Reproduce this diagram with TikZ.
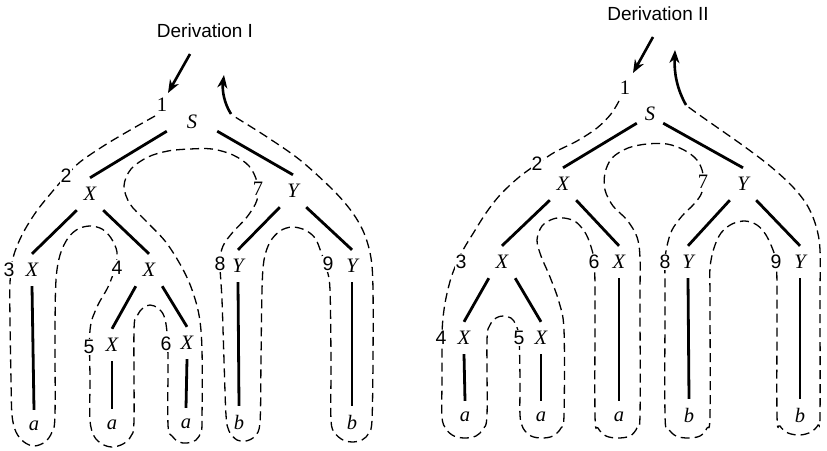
\documentclass[tikz,border=0pt]{standalone}
\usepackage{fontspec}
\setmainfont{Liberation Serif}
\setsansfont{Liberation Sans}
\usetikzlibrary{arrows.meta}
\tikzset{
  tn/.style={font=\fontsize{20.5}{22}\selectfont\itshape, inner sep=0pt, minimum width=26pt, minimum height=32pt},
  sn/.style={font=\fontsize{20.5}{22}\selectfont\itshape, inner sep=0pt, minimum height=18pt},
  num/.style={font=\sffamily\fontsize{19.5}{20}\selectfont, fill=white, inner sep=1pt},
  numr/.style={font=\rmfamily\fontsize{20.5}{20}\selectfont, fill=white, inner sep=1pt},
  ttl/.style={font=\sffamily\fontsize{19}{20}\selectfont, inner sep=0pt},
  tedge/.style={line width=2.8pt},
  contour/.style={dash pattern=on 9pt off 5pt, line width=1.3pt},
  arr/.style={line width=2.6pt, -{Stealth[length=13pt,width=10pt,inset=4pt]}}
}
\begin{document}
\begin{tikzpicture}[x=1pt,y=-1pt]
\useasboundingbox (0,0) rectangle (827,450);

% ---------- Derivation I ----------
\node[ttl] (t1) at (205,31) {Derivation I};
\node[sn, minimum width=50pt] (S1) at (192,122) {S};
\node[tn] (X1) at (90,194) {X};
\node[tn] (Y1) at (293,191) {Y};
\node[tn] (X3L) at (32,270) {X};
\node[tn] (X4L) at (149,270) {X};
\node[tn] (X5L) at (112,345) {X};
\node[tn] (X6L) at (187,343) {X};
\node[tn] (Y8L) at (238,266) {Y};
\node[tn] (Y9L) at (352,266) {Y};
\node[tn] (a3) at (34,426) {a};
\node[tn] (a5) at (112,425) {a};
\node[tn] (a6) at (186,424) {a};
\node[tn] (b8) at (239,422) {b};
\node[tn] (b9) at (352,422) {b};

\draw[tedge] (S1.south west) -- (X1.north);
\draw[tedge] (S1.south east) -- (Y1.north);
\draw[tedge] (X1.south west) -- (X3L.north);
\draw[tedge] (X1.south east) -- (X4L.north);
\draw[tedge] (X4L.south west) -- (X5L.north);
\draw[tedge] (X4L.south east) -- (X6L.north);
\draw[tedge] (Y1.south west) -- (Y8L.north);
\draw[tedge] (Y1.south east) -- (Y9L.north);
\draw[tedge] (X3L.south) -- (a3.north);
\draw[tedge] (X5L.south) -- (a5.north);
\draw[tedge] (X6L.south) -- (a6.north);
\draw[tedge] (Y8L.south) -- (b8.north);
\draw[tedge] (Y9L.south) -- (b9.north);

\draw[contour] plot[smooth, tension=0.55] coordinates {
(155,116) (132,129) (105,145) (80,162) (66,176) (52,192) (36,212) (22,235) (13,258) (10,283) (10,320) (11,380) (12,415) (16,432) (24,442) (34,446) (45,442) (52,432) (55,415) (55,330) (56,280) (60,255) (68,238) (78,229) (90,226) (102,229) (111,238) (117,252) (115,268) (108,287) (97,307) (90,330) (90,380) (90,420) (94,436) (102,444) (112,447) (123,444) (131,436) (134,420) (134,330) (137,316) (143,308) (150,305) (158,308) (164,316) (167,332) (168,360) (168,425) (172,436) (179,442) (187,443) (196,440) (201,432) (202,420) (202,350) (199,315) (191,287) (180,264) (165,241) (145,220) (130,204) (124,186) (131,169) (148,157) (168,151) (190,149) (212,149) (233,155) (249,166) (257,182) (257,200) (247,217) (233,232) (223,246) (220,263) (222,300) (224,360) (226,415) (229,431) (237,440) (246,441) (255,436) (260,422) (261,360) (262,290) (264,260) (270,242) (280,231) (292,227) (305,230) (315,238) (321,252) (327,270) (330,290) (331,360) (331,420) (335,433) (343,440) (352,442) (362,440) (369,433) (372,420) (373,360) (373,290) (371,258) (364,233) (352,212) (333,190) (300,160) (267,137) (240,120) (232,115)};

\node[numr] (n1L) at (162,105) {1};
\node[num] (n2L) at (66,176) {2};
\node[num] (n3L) at (9,270) {3};
\node[num] (n4L) at (117,268) {4};
\node[num] (n5L) at (89,347) {5};
\node[num] (n6L) at (166,344) {6};
\node[numr] (n7L) at (258,189) {7};
\node[num] (n8L) at (220,264) {8};
\node[num] (n9L) at (328,264) {9};

\coordinate (inLa) at (190,54);
\coordinate (inLb) at (168,93);
\draw[arr] (inLa) -- (inLb);
\coordinate (outLa) at (231,114);
\coordinate (outLb) at (224,75);
\draw[arr] (outLa) .. controls (224,103) and (222,90) .. (outLb);

% ---------- Derivation II ----------
\node[ttl] (t2) at (658,14) {Derivation II};
\node[sn, minimum width=26pt] (S2) at (650,114) {S};
\node[tn] (X2) at (563,184) {X};
\node[tn] (Y2) at (743,184) {Y};
\node[tn] (X3R) at (502,262) {X};
\node[tn] (X6R) at (619,262) {X};
\node[tn] (Y8R) at (688,262) {Y};
\node[tn] (Y9R) at (800,262) {Y};
\node[tn] (X4R) at (464,338) {X};
\node[tn] (X5R) at (541,338) {X};
\node[tn] (aR4) at (465,417) {a};
\node[tn] (aR5) at (541,417) {a};
\node[tn] (aR6) at (619,417) {a};
\node[tn] (bR8) at (689,415) {b};
\node[tn] (bR9) at (800,415) {b};

\draw[tedge] (S2.south west) -- (X2.north);
\draw[tedge] (S2.south east) -- (Y2.north);
\draw[tedge] (X2.south west) -- (X3R.north);
\draw[tedge] (X2.south east) -- (X6R.north);
\draw[tedge] (Y2.south west) -- (Y8R.north);
\draw[tedge] (Y2.south east) -- (Y9R.north);
\draw[tedge] (X3R.south west) -- (X4R.north);
\draw[tedge] (X3R.south east) -- (X5R.north);
\draw[tedge] (X4R.south) -- (aR4.north);
\draw[tedge] (X5R.south) -- (aR5.north);
\draw[tedge] (X6R.south) -- (aR6.north);
\draw[tedge] (Y8R.south) -- (bR8.north);
\draw[tedge] (Y9R.south) -- (bR9.north);

\draw[contour] plot[smooth, tension=0.55] coordinates {
(619,101) (611,114) (597,128) (577,141) (555,152) (537,164) (518,178) (500,195) (486,213) (474,232) (462,252) (452,275) (446,298) (443,318) (442,338) (442,380) (442,417) (446,429) (454,436) (465,438) (476,436) (483,429) (487,415) (487,340) (490,325) (496,318) (503,316) (511,318) (516,325) (519,338) (520,380) (520,415) (523,428) (531,436) (542,438) (553,436) (561,428) (564,415) (564,330) (559,302) (550,277) (541,256) (537,240) (542,226) (553,219) (564,218) (576,222) (586,234) (592,250) (594,262) (595,290) (595,415) (598,428) (606,436) (618,438) (630,436) (637,428) (640,415) (640,300) (640,258) (637,237) (627,220) (613,206) (605,190) (605,173) (612,158) (628,148) (647,144) (667,144) (684,150) (697,160) (703,174) (702,192) (694,204) (682,216) (672,230) (667,246) (665,262) (665,300) (665,415) (668,428) (676,436) (688,438) (700,436) (707,428) (710,415) (710,300) (710,268) (714,248) (721,233) (732,224) (745,221) (757,225) (766,235) (773,250) (776,262) (777,290) (777,415) (780,426) (788,433) (800,435) (811,432) (818,425) (820,415) (820,300) (820,250) (816,226) (807,205) (792,186) (770,166) (745,147) (718,128) (698,114) (687,106)};

\node[numr] (n1R) at (625,88) {1};
\node[num] (n2R) at (537,164) {2};
\node[num] (n3R) at (461,262) {3};
\node[num] (n4R) at (441,338) {4};
\node[num] (n5R) at (519,338) {5};
\node[num] (n6R) at (594,262) {6};
\node[numr] (n7R) at (703,182) {7};
\node[num] (n8R) at (665,262) {8};
\node[num] (n9R) at (776,262) {9};

\coordinate (inRa) at (653,37);
\coordinate (inRb) at (633,73);
\draw[arr] (inRa) -- (inRb);
\coordinate (outRa) at (686,105);
\coordinate (outRb) at (675,50);
\draw[arr] (outRa) .. controls (677,89) and (674,73) .. (outRb);
\end{tikzpicture}
\end{document}
